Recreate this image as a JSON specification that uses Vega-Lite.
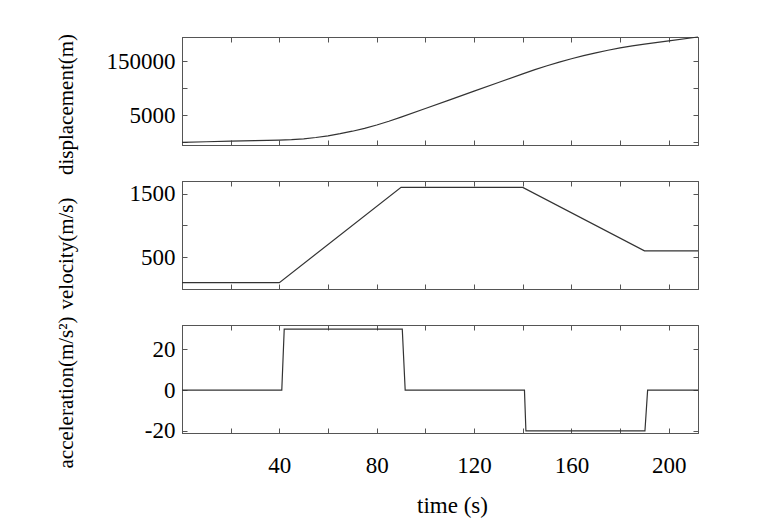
{
  "$schema": "https://vega.github.io/schema/vega-lite/v6.json",
  "background": "white",
  "padding": {"left": 54, "top": 32, "right": 5, "bottom": 5},
  "spacing": 36,
  "bounds": "flush",
  "config": {
    "view": {"stroke": "#555", "strokeWidth": 1},
    "axis": {
      "grid": false,
      "domainColor": "#555",
      "tickColor": "#555",
      "tickSize": -5,
      "labelFont": "Liberation Serif",
      "labelFontSize": 23,
      "labelColor": "#000",
      "labelFlush": false,
      "labelOverlap": false,
      "titleFont": "Liberation Serif",
      "titleFontSize": 21,
      "titleFontWeight": "normal",
      "titleColor": "#000"
    },
    "line": {"color": "#333", "strokeWidth": 1.2}
  },
  "datasets": {
    "disp": [
      {"t": 0, "v": 0}, {"t": 10, "v": 1000}, {"t": 20, "v": 2000}, {"t": 30, "v": 3000},
      {"t": 40, "v": 4000}, {"t": 45, "v": 4875}, {"t": 50, "v": 6500}, {"t": 55, "v": 8875},
      {"t": 60, "v": 12000}, {"t": 65, "v": 15875}, {"t": 70, "v": 20500}, {"t": 75, "v": 25875},
      {"t": 80, "v": 32000}, {"t": 85, "v": 38875}, {"t": 90, "v": 46500}, {"t": 100, "v": 62500},
      {"t": 110, "v": 78500}, {"t": 120, "v": 94500}, {"t": 130, "v": 110500}, {"t": 140, "v": 126500},
      {"t": 145, "v": 134250}, {"t": 150, "v": 141500}, {"t": 155, "v": 148250}, {"t": 160, "v": 154500},
      {"t": 165, "v": 160250}, {"t": 170, "v": 165500}, {"t": 175, "v": 170250}, {"t": 180, "v": 174500},
      {"t": 185, "v": 178250}, {"t": 190, "v": 181500}, {"t": 200, "v": 187500}, {"t": 212, "v": 194700}
    ],
    "vel": [
      {"t": 0, "v": 100}, {"t": 40, "v": 100}, {"t": 90, "v": 1600},
      {"t": 140, "v": 1600}, {"t": 190, "v": 600}, {"t": 212, "v": 600}
    ],
    "acc": [
      {"t": 0, "v": 0}, {"t": 41, "v": 0}, {"t": 42, "v": 30}, {"t": 90.5, "v": 30},
      {"t": 91.7, "v": 0}, {"t": 140.7, "v": 0}, {"t": 141.3, "v": -20}, {"t": 190.2, "v": -20},
      {"t": 191.3, "v": 0}, {"t": 212, "v": 0}
    ]
  },
  "vconcat": [
    {
      "width": 516, "height": 108,
      "data": {"name": "disp"},
      "layer": [
        {
          "mark": "line",
          "encoding": {
            "x": {"field": "t", "type": "quantitative", "scale": {"domain": [0, 212], "nice": false, "zero": false},
                  "axis": {"orient": "bottom", "values": [0,20,40,60,80,100,120,140,160,180,200], "labels": false, "title": null}},
            "y": {"field": "v", "type": "quantitative", "scale": {"domain": [-5000, 194700], "nice": false, "zero": false},
                  "axis": {"orient": "left", "values": [0, 50000, 100000, 150000], "labelPadding": 12,
                           "labelExpr": "datum.value == 150000 ? '150000' : (datum.value == 50000 ? '5000' : '')",
                           "title": "displacement(m)", "titleX": -116, "titleY": 67, "titleBaseline": "middle"}}
          }
        },
        {
          "mark": {"type": "line", "opacity": 0},
          "encoding": {
            "x": {"field": "t", "type": "quantitative", "axis": {"orient": "top", "values": [0,20,40,60,80,100,120,140,160,180,200], "labels": false, "title": null}},
            "y": {"field": "v", "type": "quantitative", "axis": {"orient": "right", "values": [0, 50000, 100000, 150000], "labels": false, "title": null}}
          }
        }
      ],
      "resolve": {"axis": {"x": "independent", "y": "independent"}}
    },
    {
      "width": 516, "height": 108,
      "data": {"name": "vel"},
      "layer": [
        {
          "mark": "line",
          "encoding": {
            "x": {"field": "t", "type": "quantitative", "scale": {"domain": [0, 212], "nice": false, "zero": false},
                  "axis": {"orient": "bottom", "values": [0,20,40,60,80,100,120,140,160,180,200], "labels": false, "title": null}},
            "y": {"field": "v", "type": "quantitative", "scale": {"domain": [0, 1700], "nice": false, "zero": false},
                  "axis": {"orient": "left", "values": [500, 1000, 1500], "labelPadding": 12, "format": "d",
                           "labelExpr": "datum.value == 1000 ? '' : datum.label",
                           "title": "velocity(m/s)", "titleX": -116, "titleY": 72, "titleBaseline": "middle"}}
          }
        },
        {
          "mark": {"type": "line", "opacity": 0},
          "encoding": {
            "x": {"field": "t", "type": "quantitative", "axis": {"orient": "top", "values": [0,20,40,60,80,100,120,140,160,180,200], "labels": false, "title": null}},
            "y": {"field": "v", "type": "quantitative", "axis": {"orient": "right", "values": [500, 1000, 1500], "labels": false, "title": null}}
          }
        }
      ],
      "resolve": {"axis": {"x": "independent", "y": "independent"}}
    },
    {
      "width": 516, "height": 108,
      "data": {"name": "acc"},
      "layer": [
        {
          "mark": "line",
          "encoding": {
            "x": {"field": "t", "type": "quantitative", "scale": {"domain": [0, 212], "nice": false, "zero": false},
                  "axis": {"orient": "bottom", "values": [0,20,40,60,80,100,120,140,160,180,200], "labelPadding": 26,
                           "labelExpr": "(datum.value > 0 && datum.value % 40 == 0) ? datum.label : ''",
                           "title": "time (s)", "titleX": 270, "titleY": 61, "titleBaseline": "top", "titleFontSize": 23}},
            "y": {"field": "v", "type": "quantitative", "scale": {"domain": [-21, 32], "nice": false, "zero": false},
                  "axis": {"orient": "left", "values": [-20, 0, 20], "labelPadding": 12,
                           "labelExpr": "datum.value == -20 ? '-20' : datum.label",
                           "title": "acceleration(m/s²)", "titleX": -116, "titleY": 67, "titleBaseline": "middle"}}
          }
        },
        {
          "mark": {"type": "line", "opacity": 0},
          "encoding": {
            "x": {"field": "t", "type": "quantitative", "axis": {"orient": "top", "values": [0,20,40,60,80,100,120,140,160,180,200], "labels": false, "title": null}},
            "y": {"field": "v", "type": "quantitative", "axis": {"orient": "right", "values": [-20, 0, 20], "labels": false, "title": null}}
          }
        }
      ],
      "resolve": {"axis": {"x": "independent", "y": "independent"}}
    }
  ]
}
